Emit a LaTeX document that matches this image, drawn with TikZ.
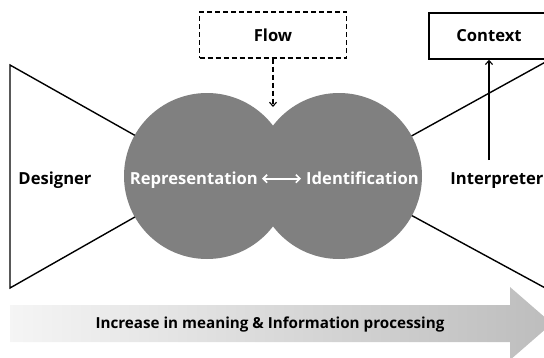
\documentclass[tikz,border=0pt]{standalone}
\usepackage{fontspec}
\setmainfont{Open Sans}
\usetikzlibrary{arrows.meta}
\definecolor{discgray}{HTML}{808080}
\tikzset{
  lbl/.style={font=\bfseries\fontsize{16.6}{18}\selectfont, inner sep=1pt},
  edge/.style={line width=1.4pt, draw=black},
  tip/.style={-{Straight Barb[length=4pt,width=7pt,line width=1.1pt]}},
  disc/.style={circle, fill=discgray, minimum size=166pt, inner sep=0pt},
  boxed/.style={draw=black, line width=1.4pt, minimum height=46pt, inner sep=0pt}
}
\begin{document}
\begin{tikzpicture}[x=1pt,y=-1pt]
\useasboundingbox (0,0) rectangle (544,357);
\clip (0,0) rectangle (544,357);

% funnels behind the discs
\draw[edge, line join=miter] (10,65) -- (207,176) -- (10,288) -- cycle;
\draw[edge] (560,54) -- (339,176) -- (560,296);

% the two overlapping discs
\node[disc] (dl) at (207,176) {};
\node[disc] (dr) at (339,176) {};

% labels across the middle, sharing one baseline
\node[lbl, anchor=base] (des) at (55,184) {Designer};
\node[lbl, text=white, anchor=base east] (rep) at (259,184) {Representation};
\node[lbl, text=white, anchor=base west] (idn) at (305,184) {Identification};
\draw[white, line width=1.6pt, {Straight Barb[length=4pt,width=8pt]}-{Straight Barb[length=4pt,width=8pt]}]
  ([xshift=3pt,yshift=-1pt]rep.east |- idn.center) -- ([xshift=-4pt,yshift=-1pt]idn.west);
\node[lbl, anchor=base] (int) at (497,184) {Interpreter};

% Flow box and its dashed arrow
\node[boxed, dashed, dash pattern=on 5pt off 3pt, minimum width=147pt] (flow) at (273,35) {};
\node[lbl] at (flow.center) {Flow};
\coordinate (pinch) at (273,107);
\draw[edge, dashed, dash pattern=on 5pt off 3pt, tip] (flow.south) -- (pinch);

% Context box
\node[boxed, minimum width=120pt] (ctx) at (489,36) {};
\node[lbl] at (ctx.center) {Context};
\coordinate (ctxfoot) at (489,160);
\draw[edge, tip] (ctxfoot) -- (ctx.south);

% progress arrow along the bottom
\shade[left color=gray!8, right color=gray!52]
  (10,305) -- (510,305) -- (510,287) -- (552,323.5) -- (510,360) -- (510,342) -- (10,342) -- cycle;
\node[lbl, font=\bfseries\fontsize{15.2}{17}\selectfont] (inc) at (270,325) {Increase in meaning \& Information processing};
\end{tikzpicture}
\end{document}
